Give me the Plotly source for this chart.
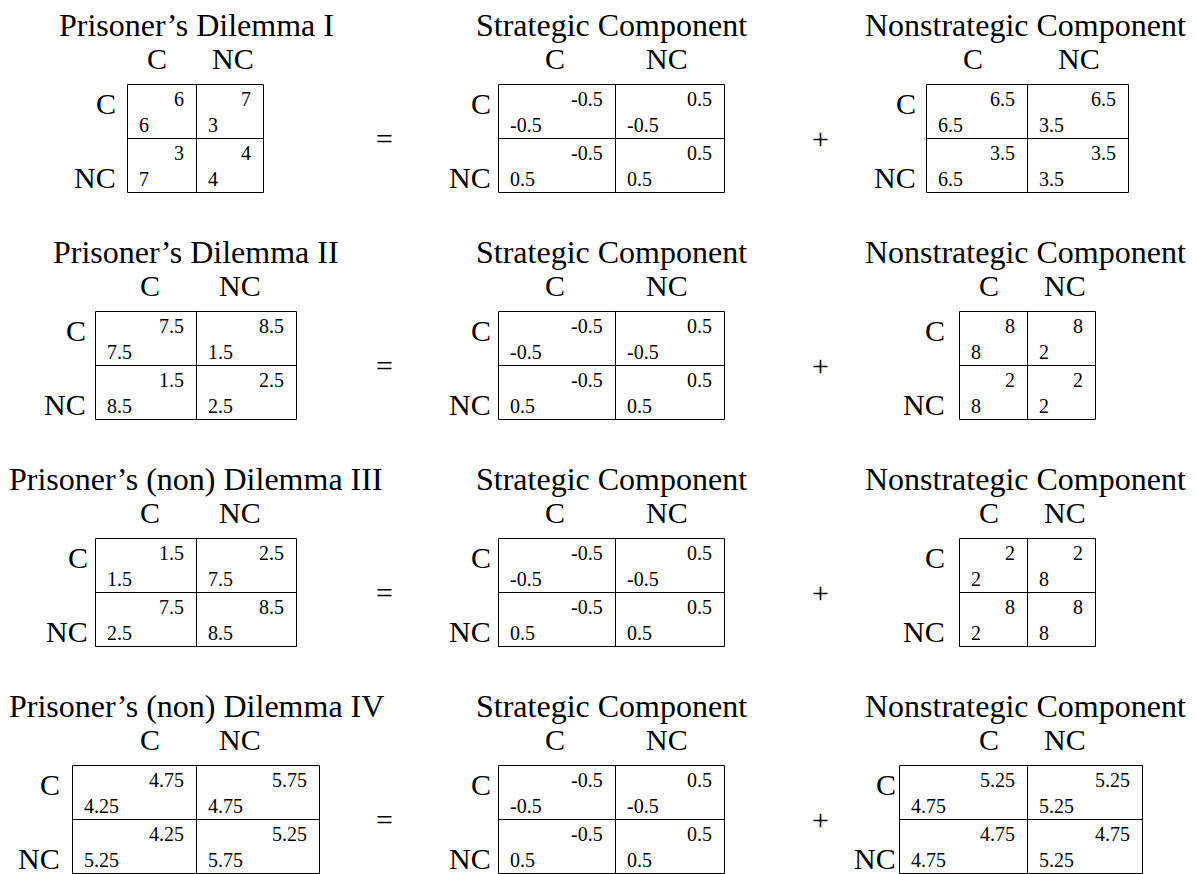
import plotly.graph_objects as go

# ---- data -------------------------------------------------------------
titles = ["Prisoner’s Dilemma I", "Prisoner’s Dilemma II",
          "Prisoner’s (non) Dilemma III", "Prisoner’s (non) Dilemma IV"]
component_titles = ["Strategic Component", "Nonstrategic Component"]
strategies = ["C", "NC"]

# payoffs [row strategy][column strategy]; *_row = row player (bottom-left),
# *_col = column player (top-right)
game_row = [
    [[6, 3], [7, 4]],
    [[7.5, 1.5], [8.5, 2.5]],
    [[1.5, 7.5], [2.5, 8.5]],
    [[4.25, 4.75], [5.25, 5.75]],
]
game_col = [
    [[6, 7], [3, 4]],
    [[7.5, 8.5], [1.5, 2.5]],
    [[1.5, 2.5], [7.5, 8.5]],
    [[4.75, 5.75], [4.25, 5.25]],
]
strategic_row = [
    [[-0.5, -0.5], [0.5, 0.5]],
    [[-0.5, -0.5], [0.5, 0.5]],
    [[-0.5, -0.5], [0.5, 0.5]],
    [[-0.5, -0.5], [0.5, 0.5]],
]
strategic_col = [
    [[-0.5, 0.5], [-0.5, 0.5]],
    [[-0.5, 0.5], [-0.5, 0.5]],
    [[-0.5, 0.5], [-0.5, 0.5]],
    [[-0.5, 0.5], [-0.5, 0.5]],
]
nonstrategic_row = [
    [[6.5, 3.5], [6.5, 3.5]],
    [[8, 2], [8, 2]],
    [[2, 8], [2, 8]],
    [[4.75, 5.25], [4.75, 5.25]],
]
nonstrategic_col = [
    [[6.5, 6.5], [3.5, 3.5]],
    [[8, 8], [2, 2]],
    [[2, 2], [8, 8]],
    [[5.25, 5.25], [4.75, 4.75]],
]

# ---- layout (pixels of the browser window) -----------------------------
W, H = 1197, 874
PAGE_MARGIN = 8                      # default <body> margin around the plot
FONT = "Liberation Serif, Times New Roman, serif"
TITLE_SIZE, HEAD_SIZE, NUM_SIZE = 32, 30, 20
ROW_TOP, ROW_STEP, CELL_H = 84, 227, 54
TR_DY, BL_DY, NUM_PAD = 15, 41, 10

DIVIDER = [196, 615, 1027]          # x of the middle line of each matrix
TITLE_X = [196, 611, 1025]
CELL_W = [
    [(69, 67), (101, 100), (101, 100), (124, 123)],
    [(117, 109)] * 4,
    [(101, 101), (68, 68), (68, 68), (128, 115)],
]
HEAD_DX = [
    [(-39, 37), (-46, 44), (-46, 44), (-46, 44)],
    [(-60, 52)] * 4,
    [(-54, 52), (-38, 38), (-38, 38), (-38, 38)],
]
LABEL_GAP = [[9, 7, 5, 10], [5] * 4, [8, 12, 12, 1]]
OP_X = [384, 820]

fig = go.Figure(go.Scatter(x=[], y=[], hoverinfo="skip", showlegend=False))


def text(x, y, s, size, anchor="center", shift=0):
    fig.add_annotation(x=x, y=y, text=s, showarrow=False, xanchor=anchor,
                       yanchor="middle", xshift=shift,
                       font=dict(family=FONT, size=size, color="black"))


def fmt(v):
    return f"{v:g}"


def matrix(k, r, title, row_vals, col_vals):
    top = ROW_TOP + r * ROW_STEP
    mid = DIVIDER[k]
    w1, w2 = CELL_W[k][r]
    xs = [mid - w1, mid, mid + w2]
    ys = [top, top + CELL_H, top + 2 * CELL_H]
    for i in range(2):
        for j in range(2):
            fig.add_shape(type="rect", xref="x", yref="y",
                          x0=xs[j] + 0.5, x1=xs[j + 1] + 0.5,
                          y0=ys[i] + 0.5, y1=ys[i + 1] + 0.5,
                          line=dict(color="black", width=1))
            text(xs[j + 1], ys[i] + TR_DY, fmt(col_vals[i][j]), NUM_SIZE,
                 "right", -NUM_PAD)
            text(xs[j], ys[i] + BL_DY, fmt(row_vals[i][j]), NUM_SIZE,
                 "left", NUM_PAD)
    text(TITLE_X[k], top - 59, title, TITLE_SIZE)
    for j, dx in enumerate(HEAD_DX[k][r]):
        text(mid + dx, top - 26, strategies[j], HEAD_SIZE)
    lx = xs[0] - LABEL_GAP[k][r]
    text(lx, top + 19, strategies[0], HEAD_SIZE, "right")
    text(lx, top + 93, strategies[1], HEAD_SIZE, "right")


for r in range(4):
    matrix(0, r, titles[r], game_row[r], game_col[r])
    matrix(1, r, component_titles[0], strategic_row[r], strategic_col[r])
    matrix(2, r, component_titles[1], nonstrategic_row[r], nonstrategic_col[r])
    top = ROW_TOP + r * ROW_STEP
    text(OP_X[0], top + CELL_H, "=", HEAD_SIZE)
    text(OP_X[1], top + CELL_H, "+", HEAD_SIZE)

fig.update_layout(
    width=W - PAGE_MARGIN, height=H - PAGE_MARGIN,
    margin=dict(l=0, r=0, t=0, b=0),
    paper_bgcolor="white", plot_bgcolor="white",
    xaxis=dict(range=[PAGE_MARGIN, W], visible=False, fixedrange=True),
    yaxis=dict(range=[H, PAGE_MARGIN], visible=False, fixedrange=True),
)
fig.write_html("out.html", config={"displayModeBar": False})
